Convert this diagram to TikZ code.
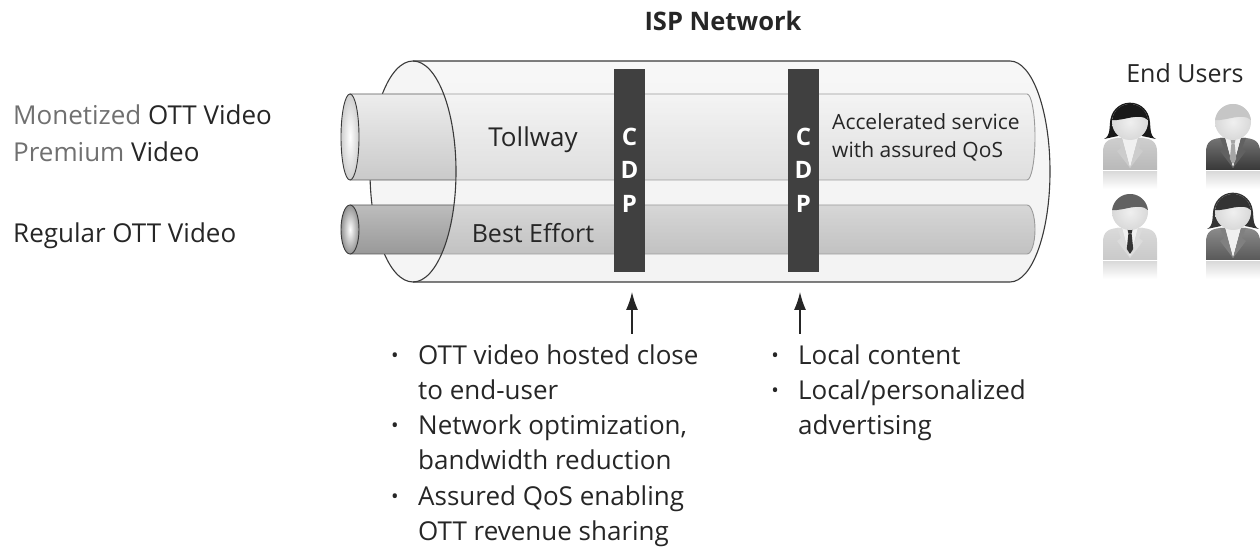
\documentclass[tikz,border=0pt]{standalone}
\usepackage{fontspec}
\setmainfont{Open Sans}
\usetikzlibrary{arrows.meta}

\definecolor{ink}{HTML}{262626}
\definecolor{soft}{HTML}{707070}
\definecolor{cdpgray}{HTML}{404040}
\definecolor{rimline}{HTML}{3A3A3A}

% user icon: x, y (head centre), hair, suit, lapel, tie, kind (m = man, w = woman)
\newcommand\usericon[7]{%
  \begin{scope}[shift={(#1,#2)}]
    \colorlet{hairc}{#3}\colorlet{suitc}{#4}\colorlet{lapelc}{#5}\colorlet{tiec}{#6}%
    % soft reflection under the figure
    \shade[top color=gray!28, bottom color=white] (-27,-50) rectangle (27,-67);
    \def\kind{#7}\def\wom{w}%
    \ifx\kind\wom
      % long hair behind the head
      \fill[hairc] (-26,-17) .. controls (-19,-14) and (-21,-4) .. (-19.5,3)
        arc[start angle=170, end angle=10, radius=19.8]
        .. controls (21,-4) and (19,-14) .. (26,-17)
        -- (12,-14) -- (-12,-14) -- cycle;
    \fi
    % body
    \shade[top color=suitc!70!white, bottom color=suitc] (-27,-48) -- (-27,-30)
      .. controls (-27,-20) and (-22,-17) .. (-13,-16) -- (13,-16)
      .. controls (22,-17) and (27,-20) .. (27,-30) -- (27,-48) -- cycle;
    % shirt
    \fill[gray!12] (-8,-16) -- (8,-16) -- (0,-46) -- cycle;
    % lapels
    \fill[lapelc] (-8,-16) -- (-13,-16) -- (-9,-26) -- (-13,-29) -- (0,-46) -- cycle;
    \fill[lapelc] (8,-16) -- (13,-16) -- (9,-26) -- (13,-29) -- (0,-46) -- cycle;
    \ifx\kind\wom\else
      % tie
      \fill[tiec] (-2.6,-17) -- (2.6,-17) -- (1.6,-21.5) -- (-1.6,-21.5) -- cycle;
      \fill[tiec] (-1.6,-21.5) -- (1.6,-21.5) -- (3.2,-37) -- (0,-42) -- (-3.2,-37) -- cycle;
    \fi
    % head
    \shade[inner color=gray!12, outer color=gray!30] (0,0) circle[radius=18];
    % hair on top of the head
    \fill[hairc] (-17.9,1.9) arc[start angle=174, end angle=6, radius=18]
      .. controls (10,10) and (-6,1) .. cycle;
  \end{scope}}

\begin{document}
\begin{tikzpicture}[x=1pt,y=1pt,
  txt/.style={inner sep=0pt, text=ink, font=\fontsize{26}{30}\selectfont},
  lbl/.style={txt, anchor=base west},
  bul/.style={inner sep=0pt, text=ink, font=\fontsize{20}{20}\selectfont, anchor=base},
  cdp/.style={fill=cdpgray, draw=none, minimum width=31pt, minimum height=203pt, inner sep=0pt},
  cdpletter/.style={inner sep=0pt, text=white, font=\fontsize{24}{24}\selectfont\bfseries},
  pointer/.style={draw=ink, line width=1.4pt, -{Latex[length=18pt,width=12pt]}},
  rim/.style={draw=rimline, line width=1.1pt},
  tubeedge/.style={draw=rimline!85, line width=0.9pt},
]
\useasboundingbox (0,0) rectangle (1260,546);

% ---------- ISP network cylinder: back layers ----------
\shade[top color=gray!10, bottom color=gray!16]
  (413,485) -- (1010,485) arc[start angle=90, end angle=-90, x radius=40, y radius=110.5]
  -- (413,264) arc[start angle=270, end angle=90, x radius=43, y radius=110.5] -- cycle;
\fill[gray!8] (413,374.5) ellipse[x radius=43, y radius=110.5];
\draw[rim] (413,485) arc[start angle=90, end angle=270, x radius=43, y radius=110.5];

% ---------- Tollway tube ----------
\shade[top color=gray!14, middle color=gray!26, bottom color=gray!42]
  (350,452) -- (1027,452) arc[start angle=90, end angle=-90, x radius=8, y radius=43]
  -- (350,366) -- cycle;
\draw[tubeedge] (350,452) -- (1027,452) arc[start angle=90, end angle=-90, x radius=8, y radius=43]
  -- (350,366);

% ---------- Best Effort tube ----------
\shade[top color=gray!52, middle color=gray!68, bottom color=gray!80]
  (350,341) -- (1027,341) arc[start angle=90, end angle=-90, x radius=8, y radius=24.5]
  -- (350,292) -- cycle;
\draw[tubeedge] (350,341) -- (1027,341) arc[start angle=90, end angle=-90, x radius=8, y radius=24.5]
  -- (350,292);

% ---------- translucent wall of the cylinder ----------
\fill[white, opacity=0.4]
  (413,485) -- (1010,485) arc[start angle=90, end angle=-90, x radius=40, y radius=110.5]
  -- (413,264) arc[start angle=-90, end angle=90, x radius=43, y radius=110.5] -- cycle;

% tube openings
\shade[inner color=white, outer color=gray!38, draw=rimline, line width=0.9pt]
  (350,409) ellipse[x radius=9, y radius=43];
\shade[inner color=white, outer color=gray!85, draw=rimline, line width=0.9pt]
  (350,316.5) ellipse[x radius=9, y radius=24.5];

% cylinder outline
\draw[rim] (413,264) arc[start angle=-90, end angle=90, x radius=43, y radius=110.5];
\draw[rim] (413,485) -- (1010,485) arc[start angle=90, end angle=-90, x radius=40, y radius=110.5]
  -- (413,264);

% ---------- tube labels ----------
\node[txt, anchor=base] (tollway) at (533,399) {Tollway};
\node[txt, anchor=base, font=\fontsize{25}{30}\selectfont] (besteffort) at (533,303) {Best Effort};
\node[lbl, font=\fontsize{21}{24}\selectfont] (accel1) at (832,416) {Accelerated service};
\node[lbl, font=\fontsize{21}{24}\selectfont] (accel2) at (832,388) {with assured QoS};

% ---------- CDP bars ----------
\node[cdp] (cdpA) at (629.5,375.5) {};
\node[cdp] (cdpB) at (803.5,375.5) {};
\foreach \bx/\nm in {629.5/A, 803.5/B}{
  \node[cdpletter] (c\nm) at (\bx,409) {C};
  \node[cdpletter] (d\nm) at (\bx,376) {D};
  \node[cdpletter] (p\nm) at (\bx,342) {P};
}

% ---------- pointers to the CDPs ----------
\coordinate (tailA) at (632,212);
\coordinate (headA) at (632,254);
\coordinate (tailB) at (800,212);
\coordinate (headB) at (800,254);
\draw[pointer] (tailA) -- (headA);
\draw[pointer] (tailB) -- (headB);

% ---------- heading ----------
\node[txt, anchor=base, font=\fontsize{25.5}{30}\selectfont\bfseries] (title) at (723,515) {ISP Network};

% ---------- traffic classes ----------
\node[lbl] (mon) at (13,421) {\textcolor{soft}{Monetized} OTT Video};
\node[lbl] (prem) at (13,384) {\textcolor{soft}{Premium} Video};
\node[lbl] (reg) at (13,303) {Regular OTT Video};

% ---------- CDP benefits ----------
\node[bul] (b1) at (395,183) {•};
\node[lbl] (t1a) at (418,181) {OTT video hosted close};
\node[lbl] (t1b) at (418,146) {to end-user};
\node[bul] (b2) at (395,113) {•};
\node[lbl] (t2a) at (418,111) {Network optimization,};
\node[lbl] (t2b) at (418,76) {bandwidth reduction};
\node[bul] (b3) at (395,43) {•};
\node[lbl] (t3a) at (418,41) {Assured QoS enabling};
\node[lbl] (t3b) at (418,6) {OTT revenue sharing};

\node[bul] (b4) at (775,183) {•};
\node[lbl] (t4) at (798,181) {Local content};
\node[bul] (b5) at (775,148) {•};
\node[lbl] (t5a) at (798,146) {Local/personalized};
\node[lbl] (t5b) at (798,111) {advertising};

% ---------- end users ----------
\node[txt, anchor=base, font=\fontsize{25}{30}\selectfont] (endusers) at (1185,463) {End Users};
\usericon{1130}{424}{black!90}{gray!55}{gray!40}{gray}{w}
\usericon{1233}{424}{gray!45}{black!78}{black!62}{gray!70}{m}
\usericon{1130}{334}{black!62}{gray!42}{gray!28}{black!80}{m}
\usericon{1233}{334}{black!80}{black!65}{black!50}{gray}{w}

\end{tikzpicture}
\end{document}
